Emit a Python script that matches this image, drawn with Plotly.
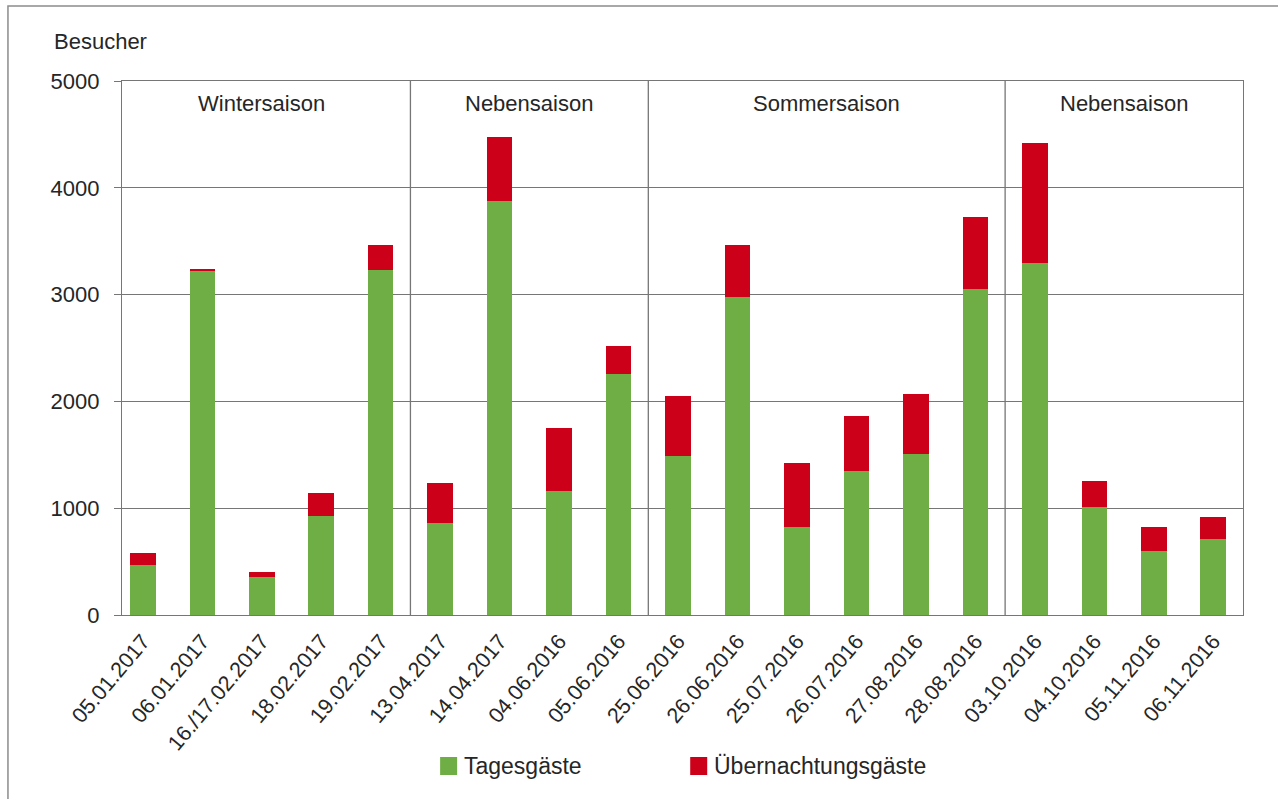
import plotly.graph_objects as go

# ---- data ----
dates = ["05.01.2017", "06.01.2017", "16./17.02.2017", "18.02.2017", "19.02.2017",
         "13.04.2017", "14.04.2017", "04.06.2016", "05.06.2016", "25.06.2016",
         "26.06.2016", "25.07.2016", "26.07.2016", "27.08.2016", "28.08.2016",
         "03.10.2016", "04.10.2016", "05.11.2016", "06.11.2016"]
tagesgaeste = [465, 3220, 355, 925, 3235, 865, 3880, 1165, 2260, 1485,
               2975, 825, 1350, 1505, 3050, 3295, 1010, 595, 710]
uebernachtungsgaeste = [115, 20, 50, 220, 225, 375, 600, 585, 255, 565,
                        490, 600, 510, 565, 675, 1125, 245, 230, 205]
seasons = ["Wintersaison", "Nebensaison", "Sommersaison", "Nebensaison"]
season_counts = [5, 4, 6, 4]
y_ticks = [0, 1000, 2000, 3000, 4000, 5000]
y_title = "Besucher"
series_names = ["Tagesgäste", "Übernachtungsgäste"]

# ---- style ----
W, H = 1278, 799
L, R_EDGE, T, B_EDGE = 122, 1242.6, 81, 615
GREEN = "#6FAE45"
RED = "#CC0019"
LINE = "#767676"
TXT = "#262626"
FONT = "Liberation Sans, Arial, sans-serif"
PW = R_EDGE - L
PH = B_EDGE - T


def px_x(p):
    return (p - L) / PW


def px_y(p):
    return (B_EDGE - p) / PH


fig = go.Figure()
fig.add_trace(go.Bar(x=dates, y=tagesgaeste, name=series_names[0],
                     marker=dict(color=GREEN, line=dict(width=0)), showlegend=False))
fig.add_trace(go.Bar(x=dates, y=uebernachtungsgaeste, name=series_names[1],
                     marker=dict(color=RED, line=dict(width=0)), showlegend=False))

shapes = []
annotations = []

# season dividers and labels
start = 0
for i, (name, n) in enumerate(zip(seasons, season_counts)):
    center = start + (n - 1) / 2
    annotations.append(dict(x=center, y=4790, xref="x", yref="y", text=name,
                            showarrow=False, font=dict(size=22, color=TXT, family=FONT),
                            xanchor="center", yanchor="middle"))
    start += n
    if i < len(seasons) - 1:
        shapes.append(dict(type="line", xref="x", yref="y", x0=start - 0.5, x1=start - 0.5,
                           y0=0, y1=5000, line=dict(color=LINE, width=1.3)))

# outer frame
shapes.append(dict(type="rect", xref="paper", yref="paper",
                   x0=px_x(8), x1=px_x(1300), y0=px_y(820), y1=px_y(6),
                   line=dict(color="#8c8c8c", width=1.5), fillcolor="rgba(0,0,0,0)", layer="below"))

# y title
annotations.append(dict(x=px_x(52), y=px_y(42), xref="paper", yref="paper", text=y_title,
                        showarrow=False, xanchor="left", yanchor="middle",
                        font=dict(size=22, color=TXT, family=FONT)))

# manual legend
legend_items = [(series_names[0], GREEN, 440), (series_names[1], RED, 690)]
for name, col, x0 in legend_items:
    shapes.append(dict(type="rect", xref="paper", yref="paper",
                       x0=px_x(x0), x1=px_x(x0 + 17), y0=px_y(775), y1=px_y(757),
                       fillcolor=col, line=dict(width=0)))
    annotations.append(dict(x=px_x(x0 + 22), y=px_y(766), xref="paper", yref="paper",
                            text=name, showarrow=False, xanchor="left", yanchor="middle",
                            font=dict(size=23, color=TXT, family=FONT)))

fig.update_layout(
    width=W, height=H,
    margin=dict(l=L, r=W - R_EDGE, t=T, b=H - B_EDGE, pad=0),
    barmode="stack", bargap=0.57,
    plot_bgcolor="white", paper_bgcolor="white",
    font=dict(family=FONT, color=TXT),
    shapes=shapes, annotations=annotations,
    hovermode=False,
    xaxis=dict(type="category", range=[-0.35, 18.5], showgrid=False,
               showline=True, linecolor=LINE, linewidth=1.3, mirror=True,
               ticks="", tickangle=-50, tickfont=dict(size=21.5, color=TXT, family=FONT),
               ticklabelstandoff=4),
    yaxis=dict(range=[0, 5000], tickvals=y_ticks, showgrid=True, gridcolor=LINE, gridwidth=1.3,
               showline=True, linecolor=LINE, linewidth=1.3, mirror=True,
               ticks="outside", ticklen=7, tickcolor=LINE, tickwidth=1.3,
               tickfont=dict(size=22, color=TXT, family=FONT), ticklabelstandoff=10,
               zeroline=False),
)

fig.write_html("out.html", config={"displayModeBar": False},
               post_script="document.body.style.margin='0';document.body.style.overflow='hidden';")
